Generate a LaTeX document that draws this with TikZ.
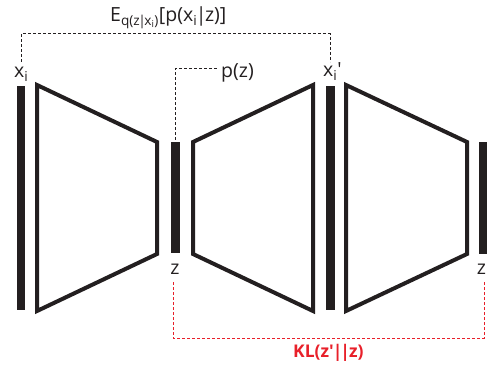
\documentclass[tikz,border=0pt]{standalone}
\usepackage{fontspec}
\setmainfont{Open Sans}
\usetikzlibrary{positioning,calc}
\definecolor{inkblack}{RGB}{35,31,32}
\definecolor{klred}{RGB}{232,32,42}
\newcommand{\condbar}{\kern-1.5pt|\kern-1.5pt}

\begin{document}
\begin{tikzpicture}[
    x=1pt, y=-1pt,
    node font=\fontsize{19.5}{24}\selectfont,
    layer bar/.style={rectangle, fill=inkblack, inner sep=0pt, minimum width=8.5pt},
    net shape/.style={line width=4pt, inkblack, line join=miter},
    var label/.style={inner sep=0pt, anchor=base, inkblack},
    link/.style={dashed, dash pattern=on 3pt off 2pt, line width=1pt, inkblack},
    kl link/.style={link, klred},
]
\useasboundingbox (0,0) rectangle (487,366);

% === Layers ===
\node[layer bar, minimum height=224pt] (xbar) at (21,198) {};
\node[layer bar, minimum height=111pt] (zbar) at (175.5,197.5) {};
\node[layer bar, minimum height=224pt] (xpbar) at (330.5,198) {};
\node[layer bar, minimum height=112pt] (zpbar) at (483,198) {};

% === Encoder / decoder / encoder ===
\draw[net shape] (37,85) -- (157,142) -- (157,254) -- (37,311) -- cycle;
\draw[net shape] (193,142) -- (313,85) -- (313,311) -- (193,254) -- cycle;
\draw[net shape] (346,85) -- (467,142) -- (467,254) -- (346,311) -- cycle;

% === Labels ===
\node[var label, anchor=base west] (xi) at (14,78) {x\textsubscript{i}};
\node[var label, anchor=base west] (xip) at (323,77) {x\textsubscript{i}\textquotesingle};
\node[var label] (z) at (175,274) {z};
\node[var label] (zp) at (481.5,274) {z};
\node[var label, anchor=base west] (pz) at (221,78) {p(z)};
\node[var label, anchor=base west] (elbo) at (110,22)
    {E\textsubscript{q(z\condbar x\textsubscript{i})}[p(x\textsubscript{i}\condbar z)]};
\node[var label, anchor=base west, klred, font=\fontsize{17.5}{22}\selectfont\bfseries] (kl) at (293,357)
    {KL(z\textquotesingle\kern-1pt|\kern-2pt|\kern-1pt z)};

% === Dashed links ===
\coordinate (top) at (0,34);
\coordinate (bottom) at (0,338);
\coordinate (xiend) at (21,62);
\coordinate (xipend) at (330,62);
\coordinate (zend) at (173,282);
\coordinate (zpend) at (484,282);
\draw[link] (xiend) -- (xiend |- top) -| (xipend);
\draw[link] (zbar.north) ++(0,-2) |- ($(pz.west)+(-4,-5)$);
\draw[kl link] (zend) -- (zend |- bottom) -| (zpend);

\end{tikzpicture}
\end{document}
